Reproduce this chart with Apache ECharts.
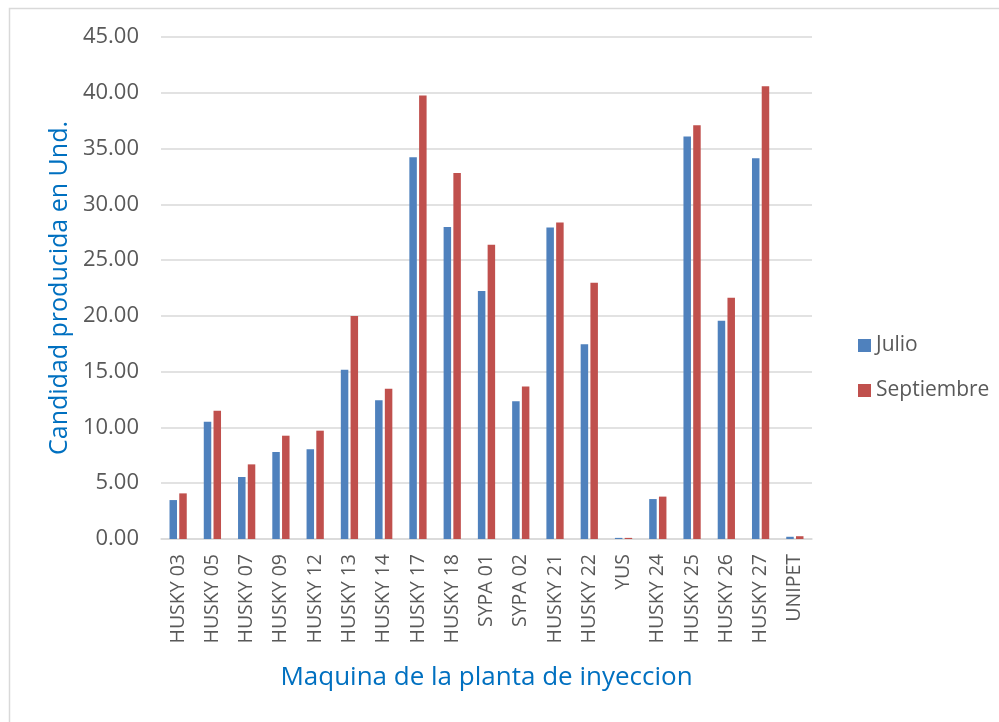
<!DOCTYPE html>
<html>
<head>
<meta charset="utf-8">
<script src="https://cdn.jsdelivr.net/npm/echarts@6/dist/echarts.min.js"></script>
<style>
html,body{margin:0;padding:0;background:#fff;}
#chart{width:999px;height:722px;}
</style>
</head>
<body>
<div id="chart"></div>
<script>
const categories = ['HUSKY 03','HUSKY 05','HUSKY 07','HUSKY 09','HUSKY 12','HUSKY 13','HUSKY 14','HUSKY 17','HUSKY 18','SYPA 01','SYPA 02','HUSKY 21','HUSKY 22','YUS','HUSKY 24','HUSKY 25','HUSKY 26','HUSKY 27','UNIPET'];
const julio = [3.49,10.52,5.56,7.80,8.04,15.18,12.43,34.23,27.96,22.22,12.34,27.93,17.45,0.10,3.58,36.08,19.57,34.14,0.20];
const septiembre = [4.09,11.50,6.69,9.26,9.71,19.98,13.47,39.76,32.80,26.38,13.68,28.38,22.97,0.10,3.80,37.10,21.63,40.59,0.25];
const seriesNames = ['Julio','Septiembre'];
const yTitle = 'Candidad producida en Und.';
const xTitle = 'Maquina de la planta de inyeccion';

const FONT = '"Open Sans", sans-serif';
const chart = echarts.init(document.getElementById('chart'), null, {renderer:'canvas'});
chart.setOption({
  animation:false,
  backgroundColor:'#fff',
  graphic:[{type:'rect',left:7,top:6,shape:{width:1010,height:730},style:{fill:'none',stroke:'#D9D9D9',lineWidth:1.5},silent:true,z:-1}],
  grid:{left:161,right:187,top:37,bottom:183,containLabel:false},
  legend:{
    orient:'vertical',left:853,top:329,
    itemWidth:13,itemHeight:13,itemGap:22,
    icon:'rect',
    textStyle:{fontFamily:FONT,fontSize:21,color:'#595959',lineHeight:23},
    data:seriesNames
  },
  xAxis:{
    type:'category',data:categories,
    axisLine:{lineStyle:{color:'#D9D9D9',width:1.5}},
    axisTick:{show:false},
    axisLabel:{rotate:90,interval:0,margin:15,fontFamily:FONT,fontSize:19.5,color:'#595959'},
    name:xTitle,nameLocation:'middle',nameGap:126,
    nameTextStyle:{fontFamily:FONT,fontSize:26,color:'#0070C0'}
  },
  yAxis:{
    type:'value',min:0,max:45,interval:5,
    axisLine:{show:false},axisTick:{show:false},
    splitLine:{lineStyle:{color:'#D9D9D9',width:1.5}},
    axisLabel:{margin:22,fontFamily:FONT,fontSize:22,color:'#595959',formatter:v=>v.toFixed(2)},
    name:yTitle,nameLocation:'middle',nameGap:86,
    nameTextStyle:{fontFamily:FONT,fontSize:25,color:'#0070C0'}
  },
  series:[
    {name:seriesNames[0],type:'bar',data:julio,barWidth:7.5,barGap:'30%',itemStyle:{color:'#4F81BD'}},
    {name:seriesNames[1],type:'bar',data:septiembre,barWidth:7.5,barGap:'30%',itemStyle:{color:'#C0504D'}}
  ]
});
</script>
</body>
</html>
